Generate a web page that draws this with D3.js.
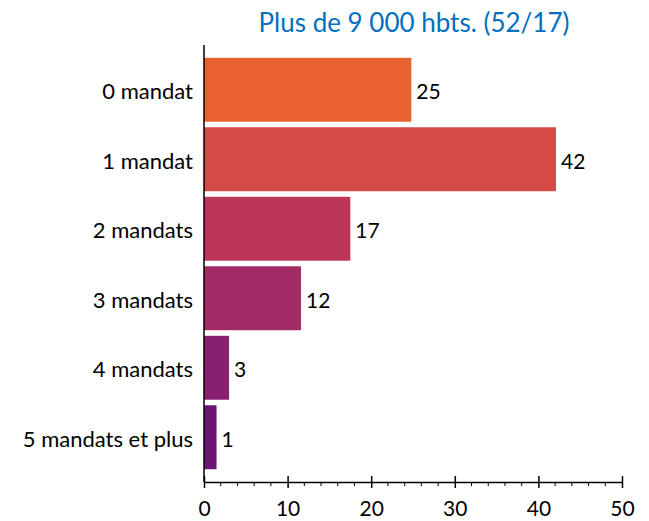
<!DOCTYPE html>
<html>
  <head>
    <meta charset="utf-8">
    <script src="https://d3js.org/d3.v7.min.js"></script>
    <style>
      body { margin: 0; background: #fff; }
      text { font-family: Lato, "Open Sans", sans-serif; fill: #000; }
    </style>
  </head>
  <body>
    <svg></svg>
    <script>
      // data
      var categories = ['0 mandat', '1 mandat', '2 mandats', '3 mandats', '4 mandats', '5 mandats et plus'];
      var values = [24.8, 42.1, 17.5, 11.6, 3.0, 1.5];
      var valueLabels = ['25', '42', '17', '12', '3', '1'];
      var colors = ['#E8612E', '#D54944', '#BE3657', '#A22A65', '#88206F', '#6A1673'];
      var title = 'Plus de 9 000 hbts. (52/17)';

      var W = 649, H = 521;
      var svg = d3.select('svg').attr('width', W).attr('height', H);

      var mLeft = 204, mRight = 622, mTop = 55, mBottom = 482;

      var x = d3.scaleLinear().domain([0, 50]).range([mLeft, mRight]);
      var y = d3.scaleBand()
                .domain(categories)
                .range([mTop, mBottom - 10])
                .paddingInner(0.08)
                .paddingOuter(0.04);

      // title
      svg.append('text')
         .attr('x', 414).attr('y', 32)
         .attr('text-anchor', 'middle')
         .style('font-size', '26px')
         .style('fill', '#0070C0')
         .text(title);

      // bars
      svg.selectAll('rect.bar')
         .data(values)
         .enter().append('rect')
         .attr('class', 'bar')
         .attr('x', x(0))
         .attr('y', function(d, i) { return y(categories[i]); })
         .attr('height', y.bandwidth())
         .attr('width', function(d) { return x(d) - x(0); })
         .attr('fill', function(d, i) { return colors[i]; });

      // value labels
      svg.selectAll('text.val')
         .data(values)
         .enter().append('text')
         .attr('class', 'val')
         .attr('x', function(d) { return x(d) + 5; })
         .attr('y', function(d, i) { return y(categories[i]) + y.bandwidth() / 2 + 2; })
         .attr('dy', '0.35em')
         .style('font-size', '21px')
         .text(function(d, i) { return valueLabels[i]; });

      // category labels
      svg.selectAll('text.cat')
         .data(categories)
         .enter().append('text')
         .attr('class', 'cat')
         .attr('x', mLeft - 11)
         .attr('y', function(d) { return y(d) + y.bandwidth() / 2 + 2; })
         .attr('dy', '0.35em')
         .attr('text-anchor', 'end')
         .style('font-size', '22px')
         .text(function(d) { return d; });

      // y axis line
      svg.append('line')
         .attr('x1', mLeft).attr('x2', mLeft)
         .attr('y1', 45).attr('y2', mBottom)
         .attr('stroke', '#000').attr('stroke-width', 1.5);

      // minor ticks every 2
      var minor = d3.range(0, 51, 2).filter(function(v) { return v % 10 !== 0; });
      svg.selectAll('line.minor')
         .data(minor)
         .enter().append('line')
         .attr('x1', function(d) { return x(d); })
         .attr('x2', function(d) { return x(d); })
         .attr('y1', mBottom).attr('y2', mBottom + 4)
         .attr('stroke', '#000').attr('stroke-width', 1);

      // x axis
      var xAxis = svg.append('g')
         .attr('transform', 'translate(0,' + mBottom + ')')
         .call(d3.axisBottom(x).tickValues(d3.range(0, 51, 10)).tickSize(6).tickPadding(13).tickSizeOuter(0));
      xAxis.select('.domain').attr('stroke', '#000').attr('stroke-width', 1.5);
      xAxis.selectAll('.tick line').attr('y1', -6).attr('stroke', '#000').attr('stroke-width', 1.5);
      xAxis.selectAll('.tick text')
           .style('font-family', 'Lato, "Open Sans", sans-serif')
           .style('font-size', '21px')
           .attr('fill', '#000');
    </script>
  </body>
</html>
